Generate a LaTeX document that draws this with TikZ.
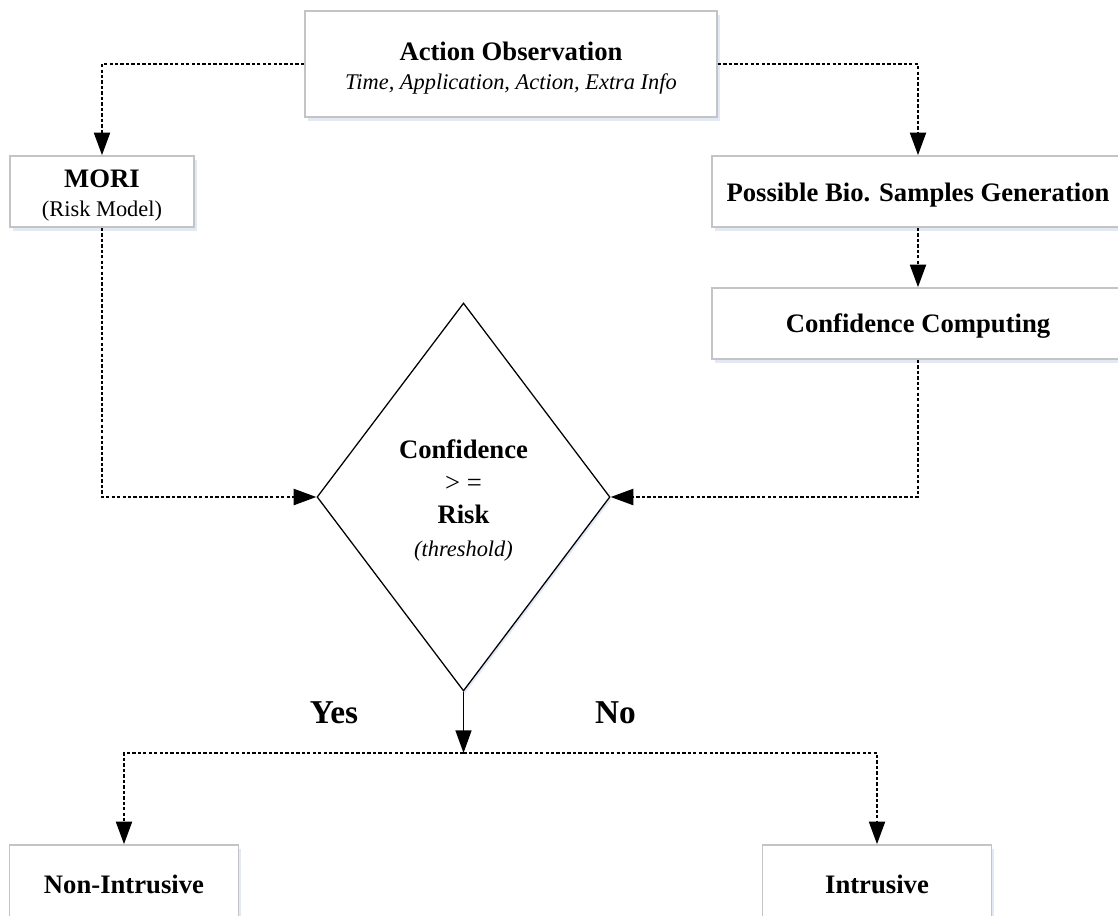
\documentclass[tikz,border=0pt]{standalone}
\usepackage{fontspec}
\setmainfont{Liberation Serif}
\usetikzlibrary{arrows.meta,shapes.geometric,shadows}
\definecolor{boxline}{HTML}{C4C4C4}
\definecolor{shade}{HTML}{E0E9F5}
\begin{document}
\begin{tikzpicture}[x=0.75pt,y=-0.75pt,
  box/.style={draw=boxline, line width=1.2pt, fill=white, inner sep=0pt,
    drop shadow={shadow xshift=2.2pt, shadow yshift=-3.2pt, fill=shade, opacity=1}},
  boxtext/.style={align=center, inner sep=0pt, font=\fontsize{20}{21.5}\selectfont\bfseries},
  decision/.style={diamond, draw, line width=0.95pt, fill=white,
    inner sep=0pt, aspect=0.755, minimum width=219.75pt, minimum height=291pt,
    drop shadow={shadow xshift=1pt, shadow yshift=-2pt, fill=shade, opacity=1}},
  dectext/.style={align=center, inner sep=0pt, font=\fontsize{20}{24.5}\selectfont\bfseries},
  tip/.style={-{Triangle[length=17pt,width=12pt]}},
  flow/.style={tip, line width=1.7pt, dash pattern=on 2.5pt off 1.6pt},
  solidflow/.style={tip, line width=1.2pt},
  answer/.style={font=\fontsize{25}{30}\selectfont\bfseries}
]
\useasboundingbox (0,0) rectangle (1118,915);

% boxes
\node[box, minimum width=309pt, minimum height=79.5pt] (obs) at (511,64) {};
\node[box, minimum width=138pt, minimum height=53.25pt] (mori) at (102,191.5) {};
\node[box, minimum width=309pt, minimum height=53.25pt] (gen) at (918,191.5) {};
\node[box, minimum width=309pt, minimum height=53.25pt] (conf) at (918,323.5) {};
\node[decision] (dec) at (463.5,497) {};
\node[box, minimum width=171.75pt, minimum height=57pt] (nonint) at (124,883) {};
\node[box, minimum width=171.75pt, minimum height=57pt] (intr) at (877,883) {};

% box texts
\node[boxtext] (obs-t) at ([yshift=-3pt]obs.center)
  {Action Observation\\{\fontsize{16.8}{21.5}\selectfont\mdseries\itshape Time, Application, Action, Extra Info}};
\node[boxtext] (mori-t) at ([yshift=-3pt]mori.center)
  {MORI\\{\fontsize{16.8}{21.5}\selectfont\mdseries (Risk Model)}};
\node[boxtext] (gen-t) at ([yshift=-2.5pt]gen.center) {Possible Bio. Samples Generation};
\node[boxtext] (conf-t) at ([yshift=-2pt]conf.center) {Confidence Computing};
\node[dectext] (dec-t) at ([yshift=-2.5pt]dec.center)
  {Confidence\\{\mdseries > =}\\Risk\\{\fontsize{16.8}{24.5}\selectfont\mdseries\itshape (threshold)}};
\node[boxtext] (nonint-t) at ([yshift=-1pt]nonint.center) {Non-Intrusive};
\node[boxtext] (intr-t) at ([yshift=-1pt]intr.center) {Intrusive};

% branch labels
\node[answer] (yes) at (334,713) {Yes};
\node[answer] (no) at (615.5,713) {No};

% connectors
\coordinate (split) at (463.5,753);
\draw[flow] (obs.west) -| (mori.north);
\draw[flow] (obs.east) -| (gen.north);
\draw[flow] (gen.south) -- (conf.north);
\draw[flow] (mori.south) |- (dec.west);
\draw[flow] (conf.south) |- (dec.east);
\draw[solidflow] (dec.south) -- (split);
\draw[flow] (split) -| (nonint.north);
\draw[flow] (split) -| (intr.north);
\end{tikzpicture}
\end{document}
